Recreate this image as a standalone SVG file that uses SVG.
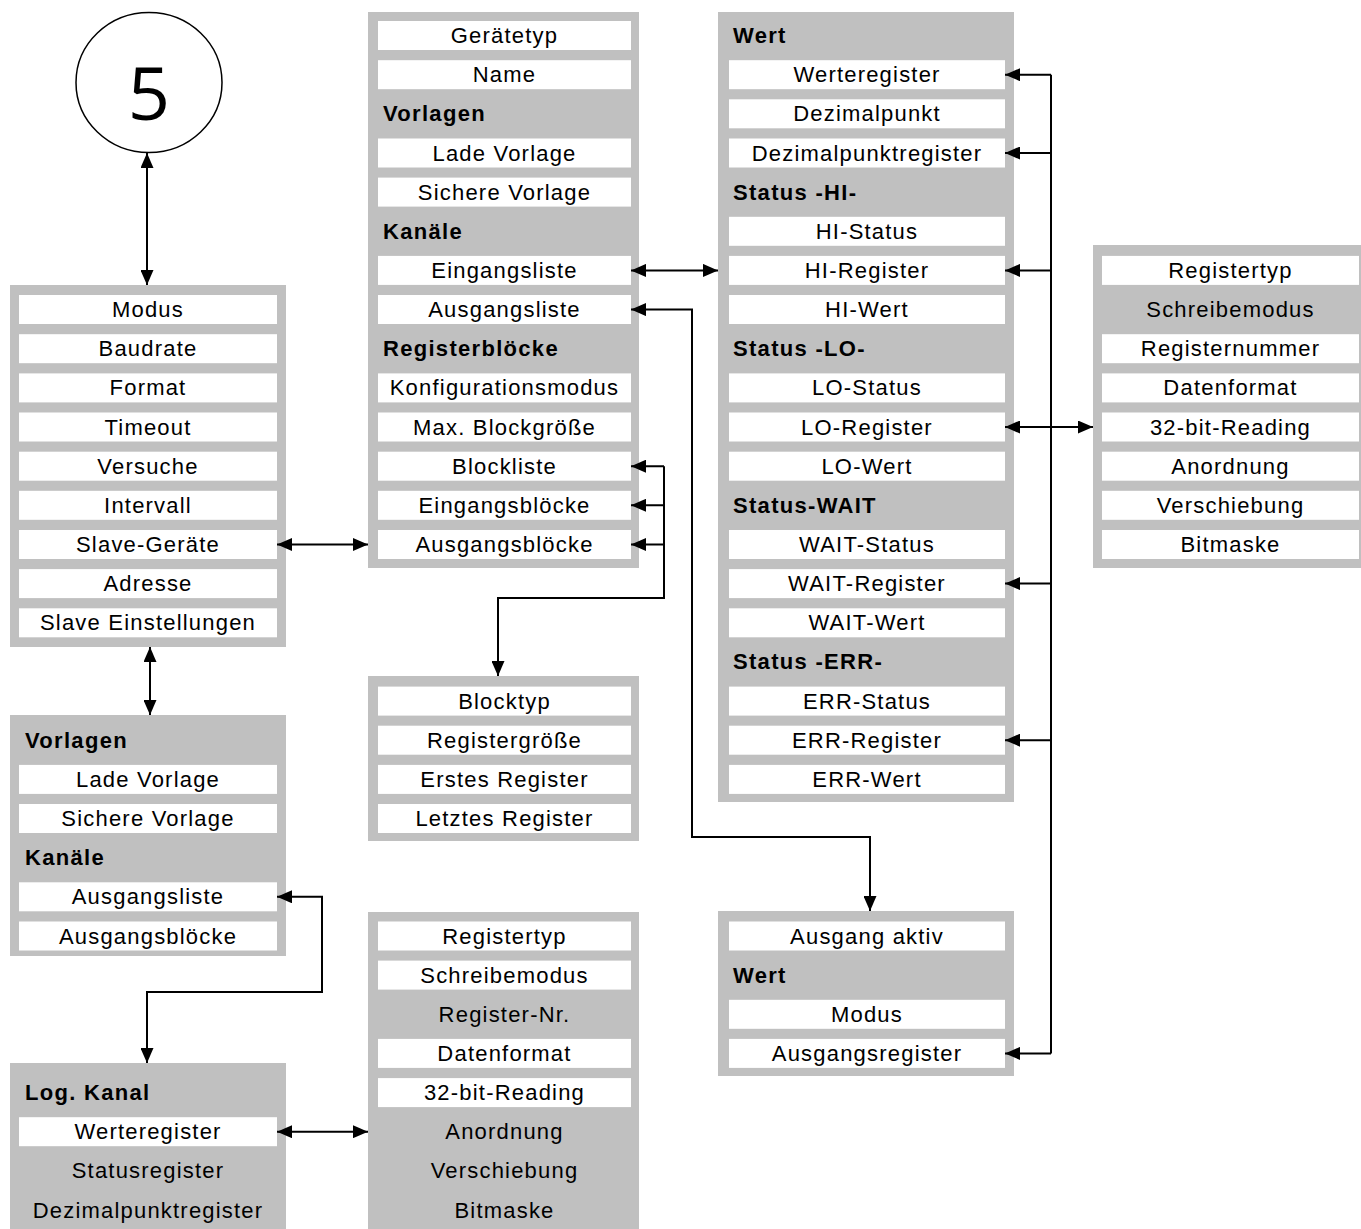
<svg xmlns="http://www.w3.org/2000/svg" width="1361" height="1229" viewBox="0 0 1361 1229">
<style>
.box{fill:#c0c0c0}
.row{fill:#ffffff}
text{font-family:"Liberation Sans",Arial,sans-serif;font-size:22px;letter-spacing:1.2px;fill:#000}
.c{text-anchor:middle}
.h{font-weight:bold;letter-spacing:1.3px}
.ln{fill:none;stroke:#000;stroke-width:2}
</style>
<defs>
<marker id="ah" viewBox="0 0 15 13" refX="15" refY="6.5" markerWidth="15" markerHeight="13" markerUnits="userSpaceOnUse" orient="auto-start-reverse"><path d="M0,0 L15,6.5 L0,13 z" fill="#000"/></marker>
</defs>
<rect width="1361" height="1229" fill="#fff"/>

<g id="n-circle">
<ellipse cx="149" cy="82.5" rx="73" ry="70" fill="#fff" stroke="#000" stroke-width="1.5"/>
<text x="149" y="120" class="c" style="font-family:'Open Sans','Noto Sans',sans-serif;font-size:74px;letter-spacing:0">5</text>
</g>

<g id="n-master">
<rect class="box" x="10" y="285" width="276" height="362"/>
<rect class="row" x="19" y="295" width="258" height="29"/><text class="c" x="148" y="317">Modus</text>
<rect class="row" x="19" y="334.2" width="258" height="29"/><text class="c" x="148" y="356.2">Baudrate</text>
<rect class="row" x="19" y="373.4" width="258" height="29"/><text class="c" x="148" y="395.4">Format</text>
<rect class="row" x="19" y="412.5" width="258" height="29"/><text class="c" x="148" y="434.5">Timeout</text>
<rect class="row" x="19" y="451.7" width="258" height="29"/><text class="c" x="148" y="473.7">Versuche</text>
<rect class="row" x="19" y="490.8" width="258" height="29"/><text class="c" x="148" y="512.8">Intervall</text>
<rect class="row" x="19" y="530" width="258" height="29"/><text class="c" x="148" y="552">Slave-Geräte</text>
<rect class="row" x="19" y="569.1" width="258" height="29"/><text class="c" x="148" y="591.1">Adresse</text>
<rect class="row" x="19" y="608.3" width="258" height="29"/><text class="c" x="148" y="630.3">Slave Einstellungen</text>
</g>

<g id="n-slave">
<rect class="box" x="368" y="12" width="271" height="556"/>
<rect class="row" x="378" y="21" width="253" height="29"/><text class="c" x="504.5" y="43">Gerätetyp</text>
<rect class="row" x="378" y="60.2" width="253" height="29"/><text class="c" x="504.5" y="82.2">Name</text>
<text class="h" x="383" y="121.3">Vorlagen</text>
<rect class="row" x="378" y="138.5" width="253" height="29"/><text class="c" x="504.5" y="160.5">Lade Vorlage</text>
<rect class="row" x="378" y="177.6" width="253" height="29"/><text class="c" x="504.5" y="199.6">Sichere Vorlage</text>
<text class="h" x="383" y="238.8">Kanäle</text>
<rect class="row" x="378" y="255.9" width="253" height="29"/><text class="c" x="504.5" y="277.9">Eingangsliste</text>
<rect class="row" x="378" y="295" width="253" height="29"/><text class="c" x="504.5" y="317">Ausgangsliste</text>
<text class="h" x="383" y="356.2">Registerblöcke</text>
<rect class="row" x="378" y="373.4" width="253" height="29"/><text class="c" x="504.5" y="395.4">Konfigurationsmodus</text>
<rect class="row" x="378" y="412.5" width="253" height="29"/><text class="c" x="504.5" y="434.5">Max. Blockgröße</text>
<rect class="row" x="378" y="451.7" width="253" height="29"/><text class="c" x="504.5" y="473.7">Blockliste</text>
<rect class="row" x="378" y="490.8" width="253" height="29"/><text class="c" x="504.5" y="512.8">Eingangsblöcke</text>
<rect class="row" x="378" y="530" width="253" height="29"/><text class="c" x="504.5" y="552">Ausgangsblöcke</text>
</g>

<g id="n-input-channel">
<rect class="box" x="718" y="12" width="296" height="790"/>
<text class="h" x="733" y="43">Wert</text>
<rect class="row" x="729" y="60.2" width="276" height="29"/><text class="c" x="867" y="82.2">Werteregister</text>
<rect class="row" x="729" y="99.3" width="276" height="29"/><text class="c" x="867" y="121.3">Dezimalpunkt</text>
<rect class="row" x="729" y="138.5" width="276" height="29"/><text class="c" x="867" y="160.5">Dezimalpunktregister</text>
<text class="h" x="733" y="199.6">Status -HI-</text>
<rect class="row" x="729" y="216.8" width="276" height="29"/><text class="c" x="867" y="238.8">HI-Status</text>
<rect class="row" x="729" y="255.9" width="276" height="29"/><text class="c" x="867" y="277.9">HI-Register</text>
<rect class="row" x="729" y="295" width="276" height="29"/><text class="c" x="867" y="317">HI-Wert</text>
<text class="h" x="733" y="356.2">Status -LO-</text>
<rect class="row" x="729" y="373.4" width="276" height="29"/><text class="c" x="867" y="395.4">LO-Status</text>
<rect class="row" x="729" y="412.5" width="276" height="29"/><text class="c" x="867" y="434.5">LO-Register</text>
<rect class="row" x="729" y="451.7" width="276" height="29"/><text class="c" x="867" y="473.7">LO-Wert</text>
<text class="h" x="733" y="512.8">Status-WAIT</text>
<rect class="row" x="729" y="530" width="276" height="29"/><text class="c" x="867" y="552">WAIT-Status</text>
<rect class="row" x="729" y="569.1" width="276" height="29"/><text class="c" x="867" y="591.1">WAIT-Register</text>
<rect class="row" x="729" y="608.3" width="276" height="29"/><text class="c" x="867" y="630.3">WAIT-Wert</text>
<text class="h" x="733" y="669.4">Status -ERR-</text>
<rect class="row" x="729" y="686.6" width="276" height="29"/><text class="c" x="867" y="708.6">ERR-Status</text>
<rect class="row" x="729" y="725.7" width="276" height="29"/><text class="c" x="867" y="747.7">ERR-Register</text>
<rect class="row" x="729" y="764.9" width="276" height="29"/><text class="c" x="867" y="786.9">ERR-Wert</text>
</g>

<g id="n-register">
<rect class="box" x="1093" y="245" width="268" height="323"/>
<rect class="row" x="1102" y="255.9" width="257" height="29"/><text class="c" x="1230.5" y="277.9">Registertyp</text>
<text class="c" x="1230.5" y="317">Schreibemodus</text>
<rect class="row" x="1102" y="334.2" width="257" height="29"/><text class="c" x="1230.5" y="356.2">Registernummer</text>
<rect class="row" x="1102" y="373.4" width="257" height="29"/><text class="c" x="1230.5" y="395.4">Datenformat</text>
<rect class="row" x="1102" y="412.5" width="257" height="29"/><text class="c" x="1230.5" y="434.5">32-bit-Reading</text>
<rect class="row" x="1102" y="451.7" width="257" height="29"/><text class="c" x="1230.5" y="473.7">Anordnung</text>
<rect class="row" x="1102" y="490.8" width="257" height="29"/><text class="c" x="1230.5" y="512.8">Verschiebung</text>
<rect class="row" x="1102" y="530" width="257" height="29"/><text class="c" x="1230.5" y="552">Bitmaske</text>
</g>

<g id="n-block">
<rect class="box" x="368" y="676" width="271" height="165"/>
<rect class="row" x="378" y="686.6" width="253" height="29"/><text class="c" x="504.5" y="708.6">Blocktyp</text>
<rect class="row" x="378" y="725.7" width="253" height="29"/><text class="c" x="504.5" y="747.7">Registergröße</text>
<rect class="row" x="378" y="764.9" width="253" height="29"/><text class="c" x="504.5" y="786.9">Erstes Register</text>
<rect class="row" x="378" y="804" width="253" height="29"/><text class="c" x="504.5" y="826">Letztes Register</text>
</g>

<g id="n-templates">
<rect class="box" x="10" y="715" width="276" height="241"/>
<text class="h" x="25" y="747.7">Vorlagen</text>
<rect class="row" x="19" y="764.9" width="258" height="29"/><text class="c" x="148" y="786.9">Lade Vorlage</text>
<rect class="row" x="19" y="804" width="258" height="29"/><text class="c" x="148" y="826">Sichere Vorlage</text>
<text class="h" x="25" y="865.2">Kanäle</text>
<rect class="row" x="19" y="882.3" width="258" height="29"/><text class="c" x="148" y="904.3">Ausgangsliste</text>
<rect class="row" x="19" y="921.5" width="258" height="29"/><text class="c" x="148" y="943.5">Ausgangsblöcke</text>
</g>

<g id="n-output-register">
<rect class="box" x="368" y="912" width="271" height="330"/>
<rect class="row" x="378" y="921.5" width="253" height="29"/><text class="c" x="504.5" y="943.5">Registertyp</text>
<rect class="row" x="378" y="960.6" width="253" height="29"/><text class="c" x="504.5" y="982.6">Schreibemodus</text>
<text class="c" x="504.5" y="1021.8">Register-Nr.</text>
<rect class="row" x="378" y="1038.9" width="253" height="29"/><text class="c" x="504.5" y="1060.9">Datenformat</text>
<rect class="row" x="378" y="1078.1" width="253" height="29"/><text class="c" x="504.5" y="1100.1">32-bit-Reading</text>
<text class="c" x="504.5" y="1139.2">Anordnung</text>
<text class="c" x="504.5" y="1178.4">Verschiebung</text>
<text class="c" x="504.5" y="1217.5">Bitmaske</text>
</g>

<g id="n-output-channel">
<rect class="box" x="718" y="911" width="296" height="165"/>
<rect class="row" x="729" y="921.5" width="276" height="29"/><text class="c" x="867" y="943.5">Ausgang aktiv</text>
<text class="h" x="733" y="982.6">Wert</text>
<rect class="row" x="729" y="999.8" width="276" height="29"/><text class="c" x="867" y="1021.8">Modus</text>
<rect class="row" x="729" y="1038.9" width="276" height="29"/><text class="c" x="867" y="1060.9">Ausgangsregister</text>
</g>

<g id="n-log-channel">
<rect class="box" x="10" y="1063" width="276" height="180"/>
<text class="h" x="25" y="1100.1">Log. Kanal</text>
<rect class="row" x="19" y="1117.2" width="258" height="29"/><text class="c" x="148" y="1139.2">Werteregister</text>
<text class="c" x="148" y="1178.4">Statusregister</text>
<text class="c" x="148" y="1217.5">Dezimalpunktregister</text>
</g>

<g id="connectors">
<path class="ln" d="M147,153 L147,285" marker-start="url(#ah)" marker-end="url(#ah)"/>
<path class="ln" d="M277,544.5 L368,544.5" marker-start="url(#ah)" marker-end="url(#ah)"/>
<path class="ln" d="M150,647 L150,715" marker-start="url(#ah)" marker-end="url(#ah)"/>
<path class="ln" d="M631,270.4 L718,270.4" marker-start="url(#ah)" marker-end="url(#ah)"/>
<path class="ln" d="M631,309.6 L692,309.6 L692,837 L870,837 L870,911" marker-start="url(#ah)" marker-end="url(#ah)"/>
<path class="ln" d="M664,466.2 L664,598 L498,598 L498,676" marker-end="url(#ah)"/>
<path class="ln" d="M664,466.2 L631,466.2" marker-end="url(#ah)"/>
<path class="ln" d="M664,505.3 L631,505.3" marker-end="url(#ah)"/>
<path class="ln" d="M664,544.5 L631,544.5" marker-end="url(#ah)"/>
<path class="ln" d="M1051,74.7 L1051,1053.4"/>
<path class="ln" d="M1051,74.7 L1005,74.7" marker-end="url(#ah)"/>
<path class="ln" d="M1051,153 L1005,153" marker-end="url(#ah)"/>
<path class="ln" d="M1051,270.4 L1005,270.4" marker-end="url(#ah)"/>
<path class="ln" d="M1051,427 L1005,427" marker-end="url(#ah)"/>
<path class="ln" d="M1051,427 L1093,427" marker-end="url(#ah)"/>
<path class="ln" d="M1051,583.6 L1005,583.6" marker-end="url(#ah)"/>
<path class="ln" d="M1051,740.2 L1005,740.2" marker-end="url(#ah)"/>
<path class="ln" d="M1051,1053.4 L1005,1053.4" marker-end="url(#ah)"/>
<path class="ln" d="M277,896.8 L322,896.8 L322,992 L147,992 L147,1063" marker-start="url(#ah)" marker-end="url(#ah)"/>
<path class="ln" d="M277,1131.7 L368,1131.7" marker-start="url(#ah)" marker-end="url(#ah)"/>
</g>
</svg>
